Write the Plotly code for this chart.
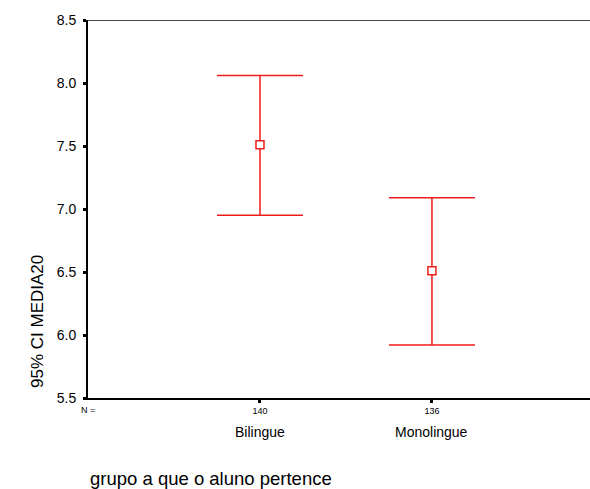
import plotly.graph_objects as go

categories = ["Bilingue", "Monolingue"]
n_counts = [140, 136]
means = [7.51, 6.51]
upper = [8.06, 7.09]
lower = [6.95, 5.92]

xpos = [1, 2]
red = "#ee1c1c"

fig = go.Figure()
fig.add_trace(go.Scatter(
    x=xpos, y=means, mode="markers",
    marker=dict(symbol="square", size=8, color="white", line=dict(color=red, width=1.5)),
    error_y=dict(type="data", symmetric=False,
                 array=[u - m for u, m in zip(upper, means)],
                 arrayminus=[m - l for m, l in zip(means, lower)],
                 color=red, thickness=1.5, width=43),
    showlegend=False, hoverinfo="skip",
))

font = "Liberation Sans, Arial, sans-serif"

fig.update_layout(
    width=590, height=489,
    margin=dict(l=88, r=0, t=20, b=91),
    paper_bgcolor="white", plot_bgcolor="white",
    font=dict(family=font, color="black"),
    xaxis=dict(range=[0, 2.919], tickvals=xpos, ticktext=[str(n) for n in n_counts],
               tickfont=dict(size=9), showgrid=False, zeroline=False,
               showline=True, linecolor="black", linewidth=2,
               ticks="outside", ticklen=3, tickwidth=3, tickcolor="black"),
    yaxis=dict(range=[5.5, 8.5], tickvals=[5.5, 6.0, 6.5, 7.0, 7.5, 8.0, 8.5],
               ticktext=["5.5", "6.0", "6.5", "7.0", "7.5", "8.0", "8.5"],
               tickfont=dict(size=14), showgrid=False, zeroline=False,
               showline=True, linecolor="black", linewidth=2,
               ticks="outside", ticklen=3, tickwidth=3, tickcolor="black",
               ticklabelstandoff=4),
)

# top border line
fig.add_shape(type="line", xref="paper", yref="y", x0=0, x1=1, y0=8.5, y1=8.5,
              line=dict(color="#444444", width=2))

# category labels
for x, c in zip(xpos, categories):
    fig.add_annotation(x=x, xref="x", y=-0.09, yref="paper", text=c, showarrow=False,
                       font=dict(size=14), yanchor="middle")

fig.add_annotation(x=0, xref="x", y=-0.032, yref="paper", text="N =", showarrow=False,
                   font=dict(size=9), yanchor="middle")

# axis titles
fig.add_annotation(x=(37 - 88) / 502, xref="paper", y=(398 - 322) / 378, yref="paper",
                   text="95% CI MEDIA20", showarrow=False, textangle=-90,
                   font=dict(size=17), xanchor="center", yanchor="middle")
fig.add_annotation(x=0, xref="x", y=-0.212, yref="paper", text="grupo a que o aluno pertence",
                   showarrow=False, font=dict(size=18.5), xanchor="left", yanchor="middle")

fig.write_html("out.html", config={"displayModeBar": False},
               post_script="document.body.style.margin='0';document.body.style.overflow='hidden';")
